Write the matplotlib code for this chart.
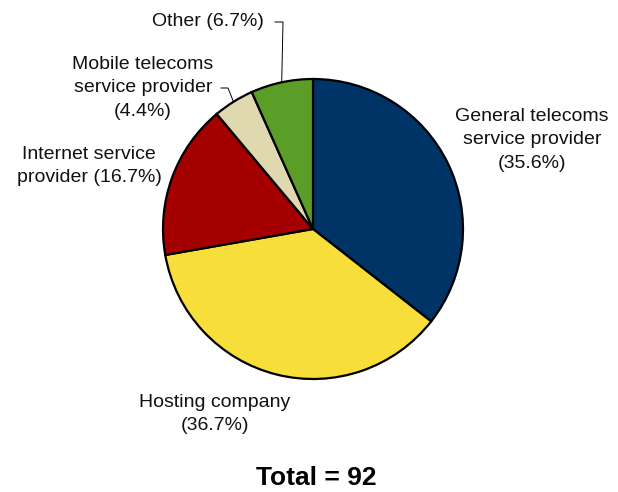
import matplotlib.pyplot as plt
import numpy as np

plt.rcParams['font.family'] = ['Liberation Sans', 'DejaVu Sans']

# 数据
labels = ['General telecoms\nservice provider\n(35.6%)', 'Hosting company\n(36.7%)',
          'Internet service\nprovider (16.7%)', 'Mobile telecoms\nservice provider\n(4.4%)',
          'Other (6.7%)']
shares = [35.6, 36.7, 16.7, 4.4, 6.7]
colors = ['#003366', '#F7DE3A', '#A50000', '#E0D9B0', '#5A9E28']
total = 92

W, H = 618, 492
fig = plt.figure(figsize=(W / 100, H / 100), dpi=100)
ax = fig.add_axes([0, 0, 1, 1])

cx, cy, r = 313, H - 229, 150
wedges, _ = ax.pie(shares, colors=colors, startangle=90, counterclock=False,
                   center=(cx, cy), radius=r, frame=True,
                   wedgeprops=dict(edgecolor='black', linewidth=1.6))
ax.set_xlim(0, W)
ax.set_ylim(0, H)
ax.set_aspect('equal')
ax.axis('off')

fs = 14
lh = dict(fontsize=fs, ha='center', va='center', linespacing=1.5, color='#111111')

# 标签（像素坐标，y 向下）
ax.text(532, H - 140, labels[0], **lh)
ax.text(215, H - 414, labels[1], **lh)
ax.text(89, H - 166, labels[2], **lh)
ax.text(143, H - 88, labels[3], **lh)
ax.text(208, H - 21, labels[4], **lh)

def edge_point(w):
    a = np.deg2rad((w.theta1 + w.theta2) / 2)
    return cx + r * np.cos(a), cy + r * np.sin(a)

# 引导线
ox, oy = edge_point(wedges[4])
ax.plot([275, 283, ox], [H - 22, H - 22, oy], color='black', lw=0.7)
mx, my = edge_point(wedges[3])
ax.plot([221, 228, mx], [H - 88, H - 88, my], color='black', lw=0.7)

ax.text(316, H - 478, f'Total = {total}', fontsize=19, fontweight='bold',
        ha='center', va='center')

fig.savefig('out.png', dpi=100)
